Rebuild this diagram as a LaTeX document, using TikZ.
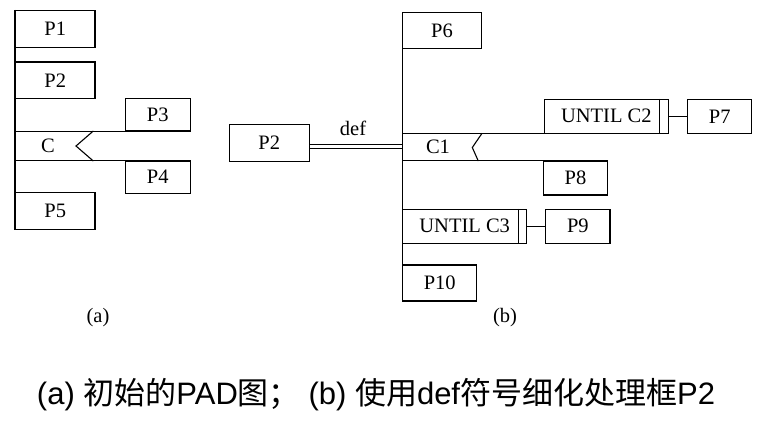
\documentclass[tikz,border=0pt]{standalone}
\usepackage{fontspec}
\setmainfont{Liberation Serif}
\newfontfamily\capsans{Liberation Sans}
\newfontfamily\cjk{Noto Sans CJK SC}
\begin{document}
\begin{tikzpicture}[x=1pt,y=-1pt,
  line width=1.1pt,
  pbox/.style 2 args={draw, line width=1.1pt, inner sep=0pt, minimum width=#1, minimum height=#2,
     font=\fontsize{20.5}{24}\selectfont},
  lbl/.style={inner sep=0pt, font=\fontsize{20.5}{24}\selectfont}]
\useasboundingbox (0,0) rectangle (759,429);
% ---------- (a) ----------
\node[pbox={79.5pt}{37pt}] (P1) at (55.25,28.8) {P1};
\node[pbox={79.5pt}{36.7pt}] (P2a) at (55.25,80.35) {P2};
\node[pbox={65pt}{32.3pt}] (P3) at (157.8,114.85) {P3};
\node[pbox={65pt}{32.3pt}] (P4) at (157.8,177.15) {P4};
\node[pbox={79.5pt}{36.6pt}] (P5) at (55.25,211) {P5};
\draw (P1.north west) -- (P5.south west);
\coordinate (cn1) at (93.3,131);
\coordinate (cn2) at (76,146);
\coordinate (cn3) at (93.3,161);
\draw (P1.west |- P3.south west) -- (P3.south west);
\draw (P1.west |- P4.north west) -- (P4.north west);
\draw (cn1) -- (cn2) -- (cn3);
\node[lbl] (C) at (48,146) {C};
\node[lbl] (la) at (98,318) {(a)};
% ---------- (b) ----------
\node[pbox={78.6pt}{35.6pt}] (P6) at (442,30.5) {P6};
\node[pbox={80pt}{37.4pt}] (P2b) at (269.3,143) {P2};
\node[pbox={124pt}{34pt}] (U2) at (606.3,116.3) {UNTIL C2\hspace{4pt}};
\node[pbox={64pt}{34pt}] (P7) at (719.7,116.3) {P7};
\node[pbox={64.4pt}{34pt}] (P8) at (575.5,178) {P8};
\node[pbox={124pt}{34pt}] (U3) at (464.7,226.3) {UNTIL C3\hspace{4pt}};
\node[pbox={64.3pt}{34pt}] (P9) at (577.85,226.3) {P9};
\node[pbox={74pt}{36pt}] (P10) at (439.7,283) {P10};
\draw (P6.north west) -- (P10.south west);
% def double line
\coordinate (d1) at (309.3,146.3);
\draw[double, double distance=2.6pt, line width=1pt] (P2b.east |- d1) -- (P6.west |- d1);
\node[lbl] (def) at (353,128) {def};
% C1 band
\draw (P6.west |- U2.south west) -- (U2.south west);
\draw (P6.west |- P8.north west) -- (P8.north west);
\coordinate (cb1) at (482,133.3);
\coordinate (cb2) at (472.3,147.5);
\coordinate (cb3) at (478.3,161);
\draw (cb1) -- (cb2) -- (cb3);
\node[lbl] (C1) at (438,147) {C1};
% until strips
\draw ([xshift=-9pt]U2.north east) -- ([xshift=-9pt]U2.south east);
\draw ([xshift=-9pt]U3.north east) -- ([xshift=-9pt]U3.south east);
\draw (U2.east) -- (P7.west);
\draw (U3.east) -- (P9.west);
\node[lbl] (lb) at (505,318) {(b)};
% ---------- caption ----------
\node[inner sep=0pt, font=\fontsize{31}{36}\selectfont] (cap) at (376,395)
  {\capsans (a) \cjk 初始的\capsans PAD\cjk 图；\capsans{} (b) \cjk 使用\capsans def\cjk 符号细化处理框\capsans P2};
\end{tikzpicture}
\end{document}
